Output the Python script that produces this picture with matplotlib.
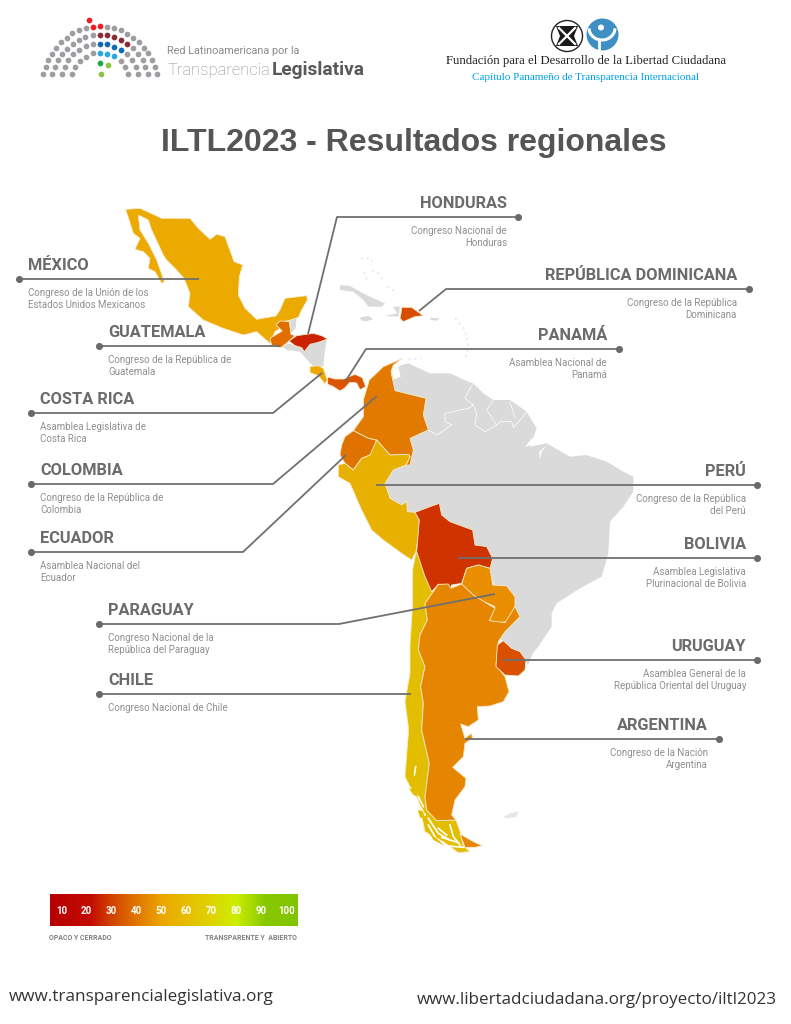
import matplotlib
matplotlib.use("Agg")
import matplotlib.pyplot as plt
import numpy as np
from matplotlib.colors import LinearSegmentedColormap
from matplotlib.patches import Circle, Polygon

# outlines were traced on 3x crops of the picture, so each has a crop origin
CROP_MEXICO = (110, 200)
CROP_ISTHMUS = (255, 305)
CROP_CARIBBEAN = (340, 250)
CROP_NORTH = (330, 350)
CROP_SOUTH = (390, 570)
CROP_PATAGONIA = (395, 760)

mexico = [(47, 28), (90, 25), (155, 55), (240, 55), (265, 85), (300, 118), (320, 103), (345, 110), (365, 165),
          (372, 185), (398, 195), (388, 230), (385, 285), (405, 325), (440, 358), (498, 348), (510, 330), (525, 295),
          (590, 287), (592, 300), (575, 330), (565, 352), (535, 362), (505, 367), (510, 385), (495, 395), (480, 430),
          (440, 395), (400, 405), (340, 385), (280, 360), (235, 320), (240, 280), (222, 235), (195, 205), (170, 180),
          (160, 165), (125, 90), (115, 60), (85, 45), (90, 90), (115, 130), (140, 180), (163, 245), (155, 250),
          (135, 215), (115, 205), (120, 175), (100, 155), (75, 148), (90, 115), (70, 100)]
guatemala = [(63, 60), (75, 48), (103, 50), (108, 88), (120, 92), (100, 110), (78, 128), (50, 122), (45, 100), (70, 85),
             (82, 78)]
honduras = [(102, 108), (125, 92), (175, 85), (200, 92), (218, 102), (190, 112), (165, 118), (148, 140), (140, 128),
            (120, 122)]
costa_rica = [(165, 185), (190, 182), (205, 190), (217, 225), (210, 237), (190, 212), (165, 203)]
panama = [(218, 216), (240, 222), (265, 222), (300, 208), (322, 218), (332, 245), (315, 254), (305, 234), (285, 232),
          (268, 250), (255, 258), (232, 243), (218, 238)]
dominicana = [(185, 172), (215, 172), (250, 197), (225, 200), (190, 215), (180, 205), (183, 190)]
grey_isthmus = [[(105, 45), (125, 35), (122, 70), (108, 85)],
                [(83, 125), (100, 115), (120, 122), (140, 130), (148, 142), (165, 118), (215, 105), (208, 150),
                 (205, 185), (172, 182), (135, 140), (95, 135)],
                [(315, 40), (345, 37), (340, 48), (320, 47)]]
grey_caribbean = [[(0, 105), (30, 108), (60, 125), (90, 140), (135, 160), (125, 170), (85, 170), (70, 150), (40, 125),
                   (0, 120)],
                  [(58, 203), (85, 198), (100, 208), (75, 213)],
                  [(135, 198), (175, 200), (180, 170), (158, 170), (172, 190)],
                  [(270, 203), (300, 205), (290, 212), (272, 210)]]
faint_islands = [[(62, 25), (95, 25), (97, 45)], [(72, 65), (80, 90)], [(95, 60), (115, 70), (130, 90)],
                 [(140, 110), (165, 125)], [(345, 205), (375, 240), (385, 290), (375, 330)], [(205, 328), (245, 325)]]

colombia = [(218, 25), (190, 45), (183, 65), (195, 122), (288, 145), (280, 195), (295, 240), (240, 265), (250, 300),
            (240, 345), (228, 345), (240, 320), (235, 313), (180, 315), (140, 270), (115, 265), (70, 242), (100, 200),
            (100, 150), (118, 90), (160, 50)]
ecuador = [(70, 242), (115, 265), (138, 270), (138, 290), (120, 315), (95, 325), (70, 360), (45, 340), (30, 315),
           (35, 285), (45, 260)]
peru = [(140, 270), (180, 315), (235, 313), (240, 320), (228, 345), (190, 360), (165, 400), (180, 445), (215, 465),
        (230, 455), (232, 485), (255, 487), (268, 510), (265, 560), (258, 605), (245, 630), (215, 610), (160, 570),
        (125, 540), (95, 480), (60, 400), (25, 380), (25, 345), (45, 340), (70, 360), (95, 325), (120, 315)]
bolivia = [(255, 487), (300, 470), (328, 460), (335, 495), (360, 515), (428, 540), (435, 585), (470, 590), (488, 625),
           (480, 655), (445, 645), (410, 655), (395, 700), (365, 705), (360, 720), (350, 705), (325, 703), (305, 725),
           (285, 680), (260, 605), (268, 510)]
paraguay = [(410, 655), (445, 645), (480, 655), (488, 705), (530, 708), (555, 740), (555, 770), (530, 815), (505, 818),
            (478, 812), (495, 770), (440, 745), (395, 703)]
brasil_y_vecinos = [(183, 65), (215, 45), (235, 40), (300, 70), (360, 70), (415, 95), (430, 100), (460, 130),
                    (490, 150), (540, 150), (590, 185), (620, 235), (600, 290), (650, 280), (720, 320), (770, 315),
                    (830, 335), (880, 365), (910, 380), (910, 425), (880, 470), (840, 515), (835, 610), (815, 680),
                    (750, 715), (680, 760), (665, 790), (665, 830), (625, 890), (609, 909), (594, 945), (585, 930),
                    (519, 873), (500, 860), (540, 790), (470, 660), (350, 600), (300, 560), (200, 520), (130, 400),
                    (200, 300), (240, 200), (170, 100)]
internal_borders = [[(295, 240), (320, 255), (365, 225), (345, 215), (345, 190), (415, 175), (430, 165), (405, 145),
                     (420, 115), (430, 100)],
                    [(430, 165), (440, 190), (435, 225), (465, 245), (500, 225), (510, 215), (545, 215), (550, 232),
                     (575, 205), (590, 185)],
                    [(490, 150), (470, 180), (500, 225)],
                    [(540, 155), (555, 205)]]
north_water = [[(185, 65), (205, 52), (212, 80), (190, 88)],
               [(585, 292), (605, 265), (640, 270), (620, 280), (600, 285)],
               [(655, 282), (635, 305), (630, 330), (628, 305)]]

chile = [(78, -54), (95, -20), (105, 20), (130, 65), (105, 100), (112, 150), (90, 195), (85, 240), (105, 290),
         (92, 350), (100, 400), (95, 480), (118, 580), (105, 680), (110, 720), (140, 752), (198, 750), (212, 790),
         (220, 828), (240, 845), (205, 848), (160, 815), (105, 785), (85, 690), (60, 650), (45, 620), (55, 490),
         (55, 470), (45, 395), (60, 310), (60, 225), (68, 100), (68, 0)]
chile_islands = [[(30, 45), (55, 33), (57, 50), (40, 50)], [(42, 85), (58, 88), (70, 110), (55, 105)],
                 [(68, 150), (85, 155), (88, 178), (75, 172)], [(100, 215), (130, 240), (150, 258), (115, 240)]]
argentina = [(130, 65), (145, 43), (175, 42), (183, 55), (215, 42), (250, 75), (315, 115), (298, 152), (345, 158),
             (375, 110), (390, 140), (345, 185), (325, 215), (318, 285), (345, 320), (357, 365), (340, 395), (300, 408),
             (262, 410), (265, 450), (235, 470), (212, 462), (225, 505), (245, 490), (247, 505), (225, 520), (220, 560),
             (188, 592), (228, 625), (225, 650), (195, 690), (185, 735), (198, 750), (140, 752), (110, 720), (105, 680),
             (118, 580), (95, 480), (100, 400), (92, 350), (105, 290), (85, 240), (90, 195), (112, 150), (105, 100)]
tierra_del_fuego = [(195, 222), (235, 245), (262, 257), (240, 262), (210, 262)]
uruguay = [(340, 212), (365, 235), (390, 245), (408, 270), (405, 300), (385, 318), (345, 315), (318, 290), (322, 225)]
malvinas = [(340, 740), (360, 730), (385, 725), (380, 740), (350, 745)]
chile_fjords = [[(62, 20), (58, 45)], [(45, 85), (70, 110), (85, 140)], [(70, 130), (90, 165)],
                [(100, 175), (130, 220), (165, 240)], [(130, 205), (155, 225)], [(165, 195), (175, 230), (195, 255)],
                [(125, 255), (205, 262)], [(100, 195), (120, 230)], [(140, 232), (190, 248)]]

color_mexico = "#ECA900"
color_guatemala = "#E36E00"
color_honduras = "#CB2300"
color_costa_rica = "#EDA800"
color_panama = "#DD5400"
color_dominicana = "#D84E00"
color_colombia = "#E27A00"
color_ecuador = "#E07200"
color_peru = "#E8B000"
color_bolivia = "#CF3400"
color_paraguay = "#E88E00"
color_argentina = "#E68600"
color_uruguay = "#D85000"
color_chile = "#E3BE00"
color_grey = "#DADADA"

# name, subtitle lines, alignment, text x, leader path starting at the dot
labels = [
    ("MÉXICO", ["Congreso de la Unión de los", "Estados Unidos Mexicanos"], "left", 28, [(19, 279), (199, 279)]),
    ("GUATEMALA", ["Congreso de la República de", "Guatemala"], "left", 108, [(99, 346), (280, 346)]),
    ("COSTA RICA", ["Asamblea Legislativa de", "Costa Rica"], "left", 40, [(31, 413), (273, 413), (322, 373)]),
    ("COLOMBIA", ["Congreso de la República de", "Colombia"], "left", 40, [(31, 484), (273, 484), (377, 396)]),
    ("ECUADOR", ["Asamblea Nacional del", "Ecuador"], "left", 40, [(31, 552), (243, 552), (346, 455)]),
    ("PARAGUAY", ["Congreso Nacional de la", "República del Paraguay"], "left", 108, [(99, 624), (339, 624), (495, 594)]),
    ("CHILE", ["Congreso Nacional de Chile"], "left", 108, [(99, 694), (411, 694)]),
    ("HONDURAS", ["Congreso Nacional de", "Honduras"], "right", 507, [(518, 217), (337, 217), (308, 334)]),
    ("REPÚBLICA DOMINICANA", ["Congreso de la República", "Dominicana"], "right", 737, [(749, 289), (446, 289), (419, 311)]),
    ("PANAMÁ", ["Asamblea Nacional de", "Panamá"], "right", 607, [(619, 349), (366, 349), (345, 382)]),
    ("PERÚ", ["Congreso de la República", "del Perú"], "right", 746, [(757, 485), (376, 485)]),
    ("BOLIVIA", ["Asamblea Legislativa", "Plurinacional de Bolivia"], "right", 746, [(757, 558), (458, 558)]),
    ("URUGUAY", ["Asamblea General de la", "República Oriental del Uruguay"], "right", 746, [(757, 660), (503, 660)]),
    ("ARGENTINA", ["Congreso de la Nación", "Argentina"], "right", 708, [(719, 739), (465, 739)]),
]

scale_ticks = [10, 20, 30, 40, 50, 60, 70, 80, 90, 100]
scale_stops = [0.0, 0.16, 0.28, 0.45, 0.65, 0.75, 0.87, 1.0]
scale_colors = ["#B80000", "#C20C00", "#D85400", "#EDA600", "#DFD400", "#CDEE00", "#88C800", "#80C400"]

seats_grey = [(40, 193), (47, 172), (55, 151), (65, 131), (78, 113), (93, 96), (110, 83), (127, 70), (148, 61),
              (168, 54), (232, 50), (253, 55), (273, 61), (292, 71), (310, 83), (326, 96), (343, 113), (355, 130),
              (366, 151), (375, 172), (381, 193), (67, 193), (74, 172), (84, 151), (96, 131), (110, 116), (128, 101),
              (146, 90), (166, 80), (188, 75), (310, 115), (325, 131), (338, 151), (346, 172), (354, 193), (97, 193),
              (104, 172), (115, 151), (128, 131), (147, 120), (167, 108), (188, 102), (291, 131), (307, 151),
              (317, 172), (324, 193), (127, 193), (135, 172), (150, 153), (168, 140), (188, 130), (273, 152),
              (285, 170), (295, 193)]
seats_red = [(176, 29), (189, 50), (211, 49)]
seats_dark_red = [(211, 75), (232, 76), (253, 81), (273, 89), (292, 101)]
seats_blue = [(211, 101), (232, 103), (253, 110), (273, 120)]
seats_light_blue = [(211, 128), (232, 131), (253, 139)]
seats_green = [(211, 159)]
seats_light_green = [(234, 165), (212, 191)]


def from_crop(points, crop):
    return [(crop[0] + x / 3, crop[1] + y / 3) for x, y in points]


def add_country(ax, points, crop, color, zorder=3):
    ax.add_patch(Polygon(from_crop(points, crop), closed=True, facecolor=color, edgecolor="#F6E9C8",
                         linewidth=0.6, zorder=zorder))


fig = plt.figure(figsize=(7.91, 10.24), dpi=100)
ax = fig.add_axes([0, 0, 1, 1])
ax.set_xlim(0, 791)
ax.set_ylim(1024, 0)
ax.axis("off")

# logos
seat_groups = [(seats_grey, "#9E9EA2"), (seats_red, "#EE1C25"), (seats_dark_red, "#8C2B33"), (seats_blue, "#1268B3"),
               (seats_light_blue, "#29A9E0"), (seats_green, "#1FA64A"), (seats_light_green, "#8CC63F")]
for seats, color in seat_groups:
    pts = np.array(from_crop(seats, (30, 10)))
    ax.scatter(pts[:, 0], pts[:, 1], s=17, color=color, linewidths=0, zorder=2)
ax.text(167, 50.5, "Red Latinoamericana por la", fontsize=7.8, color="#8A8A8A", va="center", family="Roboto")
ax.text(168, 70, "Transparencia", fontsize=12, color="#8A8A8A", va="center", fontweight="light", family="Roboto")
ax.text(272, 70, "Legislativa", fontsize=13.8, color="#58595B", va="center", fontweight="bold", family="Roboto")

ax.add_patch(Circle((567, 36), 15.5, facecolor="white", edgecolor="#222222", linewidth=1))
ax.add_patch(Polygon([(556, 26), (578, 26), (574, 36), (578, 46), (556, 46), (560, 36)], facecolor="#1A1A1A"))
ax.plot([559, 575], [28, 44], color="white", lw=1.6)
ax.plot([575, 559], [28, 44], color="white", lw=1.6)
ax.add_patch(Circle((602.5, 34.5), 16, facecolor="#3D8FC4", edgecolor="none"))
ax.add_patch(Circle((601, 27.5), 3, facecolor="white", edgecolor="none"))
arc = np.linspace(np.pi * 0.95, np.pi * 0.05, 30)
ax.plot(602 + 13 * np.cos(arc), 28 + 12 * np.sin(arc), color="white", lw=2.2)
ax.plot([599, 599], [40, 50], color="white", lw=2)
ax.text(586, 61, "Fundación para el Desarrollo de la Libertad Ciudadana", fontsize=9.2, color="#222222",
        family="Liberation Serif", ha="center", va="center")
ax.text(585.5, 77, "Capítulo Panameño de Transparencia Internacional", fontsize=8.05, color="#00A0E9",
        family="Liberation Serif", ha="center", va="center")

ax.text(414, 143, "ILTL2023 - Resultados regionales", fontsize=23.05, fontweight="bold", color="#555555",
        family="Liberation Sans", ha="center", va="center")

# grey land first, countries on top
ax.add_patch(Polygon(from_crop(brasil_y_vecinos, CROP_NORTH), facecolor=color_grey, edgecolor="none", zorder=1))
for shape in grey_isthmus:
    ax.add_patch(Polygon(from_crop(shape, CROP_ISTHMUS), facecolor=color_grey, edgecolor="none", zorder=1))
for shape in grey_caribbean:
    ax.add_patch(Polygon(from_crop(shape, CROP_CARIBBEAN), facecolor=color_grey, edgecolor="none", zorder=1))
for line in faint_islands:
    pts = np.array(from_crop(line, CROP_CARIBBEAN))
    ax.plot(pts[:, 0], pts[:, 1], color="#EBEBEB", lw=1.2, ls=(0, (1.5, 2)), zorder=1)
ax.add_patch(Polygon(from_crop(malvinas, CROP_SOUTH), facecolor="#E6E6E6", edgecolor="none", zorder=1))
for line in internal_borders:
    pts = np.array(from_crop(line, CROP_NORTH))
    ax.plot(pts[:, 0], pts[:, 1], color="white", lw=0.5, zorder=2)
for shape in north_water:
    ax.add_patch(Polygon(from_crop(shape, CROP_NORTH), facecolor="white", edgecolor="none", zorder=2))

add_country(ax, mexico, CROP_MEXICO, color_mexico)
add_country(ax, guatemala, CROP_ISTHMUS, color_guatemala)
add_country(ax, honduras, CROP_ISTHMUS, color_honduras)
add_country(ax, costa_rica, CROP_ISTHMUS, color_costa_rica)
add_country(ax, panama, CROP_ISTHMUS, color_panama)
add_country(ax, dominicana, CROP_CARIBBEAN, color_dominicana)
add_country(ax, colombia, CROP_NORTH, color_colombia)
add_country(ax, ecuador, CROP_NORTH, color_ecuador)
add_country(ax, peru, CROP_NORTH, color_peru)
add_country(ax, chile, CROP_SOUTH, color_chile)
add_country(ax, bolivia, CROP_NORTH, color_bolivia)
add_country(ax, paraguay, CROP_NORTH, color_paraguay)
add_country(ax, argentina, CROP_SOUTH, color_argentina)
add_country(ax, tierra_del_fuego, CROP_PATAGONIA, color_argentina)
add_country(ax, uruguay, CROP_SOUTH, color_uruguay)
for line in chile_fjords:
    pts = np.array(from_crop(line, CROP_PATAGONIA))
    ax.plot(pts[:, 0], pts[:, 1], color="white", lw=1.2, zorder=4)
for shape in chile_islands:
    ax.add_patch(Polygon(from_crop(shape, CROP_PATAGONIA), facecolor=color_chile, edgecolor="none", zorder=4))

# labels and leaders
for name, subtitle, align, text_x, leader in labels:
    pts = np.array(leader)
    dot_x, dot_y = leader[0]
    ax.plot(pts[:, 0], pts[:, 1], color="#707070", lw=1.3, zorder=5, solid_capstyle="butt")
    ax.scatter([dot_x], [dot_y], s=26, color="#6A6A6A", linewidths=0, zorder=6)
    ax.text(text_x, dot_y - 9.3, name, fontsize=11.8, fontweight="bold", color="#6B6B6B", family="Roboto",
            ha=align, va="baseline")
    for i, line in enumerate(subtitle):
        ax.text(text_x, dot_y + 17 + 11.8 * i, line, fontsize=7, color="#8F8F8F", family="Roboto",
                ha=align, va="baseline")

# colour scale, 10 sits at x=61.7 and 100 at x=286
scale_cmap = LinearSegmentedColormap.from_list("iltl", list(zip(scale_stops, scale_colors)))
ax.imshow(np.linspace(0, 1, 256).reshape(1, -1), cmap=scale_cmap, extent=(50, 298, 926, 894), aspect="auto", zorder=2)
ax.set_xlim(0, 791)
ax.set_ylim(1024, 0)
for value in scale_ticks:
    ax.text(61.7 + (value - 10) * 2.496, 910.5, str(value), fontsize=7, fontweight="bold", color="white",
            family="Roboto", ha="center", va="center", zorder=3)
ax.text(49, 938, "OPACO Y CERRADO", fontsize=5, fontweight="bold", color="#808080", family="Roboto", va="center")
ax.text(297, 938, "TRANSPARENTE Y  ABIERTO", fontsize=5, fontweight="bold", color="#808080", family="Roboto",
        ha="right", va="center")

ax.text(9, 997, "www.transparencialegislativa.org", fontsize=12.3, color="#333333", family="Open Sans", va="center")
ax.text(777, 1000, "www.libertadciudadana.org/proyecto/iltl2023", fontsize=12.25, color="#333333", family="Open Sans",
        ha="right", va="center")

fig.savefig("out.png", dpi=100, facecolor="white")
